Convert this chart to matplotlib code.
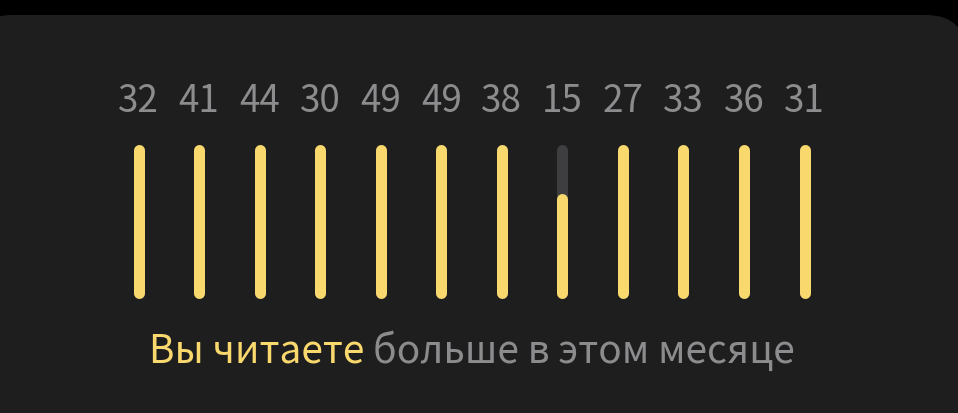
import numpy as np
import matplotlib
matplotlib.use('Agg')
import matplotlib.pyplot as plt
from matplotlib.patches import FancyBboxPatch

plt.rcParams['font.family'] = ['Noto Sans CJK JP', 'DejaVu Sans']

# data
counts = [32, 41, 44, 30, 49, 49, 38, 15, 27, 33, 36, 31]
goal = 23
caption_hi = "Вы читаете"
caption_rest = "больше в этом месяце"

yellow = '#f9d96e'
track = '#3e3e40'
card = '#1e1e1e'
grey = '#8c8c8e'

W, H = 958, 414
fig = plt.figure(figsize=(W / 100, H / 100), dpi=100, facecolor='black')

# card behind everything (pixel coords)
box = FancyBboxPatch((-28, -60), 994, 398 + 60, boxstyle='round,pad=0,rounding_size=40',
                     transform=None, facecolor=card, edgecolor='none', zorder=-5)
fig.patches.append(box)

# bars axes: index 0 -> x=138.5px, spacing ~60.5px
step = 60.55
left = 138.5 - step / 2
bot, top = 299, 145
ax = fig.add_axes([left / W, (H - bot) / H, 12 * step / W, (bot - top) / H])
ax.set_facecolor('none')
ax.axis('off')
r = 5.5
per_px = goal / (bot - top - 2 * r)
ax.set_xlim(-0.5, 11.5)
ax.set_ylim(-r * per_px, goal + r * per_px)

lw = 11 * 0.72
x = np.arange(len(counts))
for i, v in zip(x, counts):
    ax.plot([i, i], [0, goal], color=track, lw=lw, solid_capstyle='round', clip_on=False)
    ax.plot([i, i], [0, min(v, goal)], color=yellow, lw=lw, solid_capstyle='round', clip_on=False)
    ax.annotate(str(v), (i, goal), xytext=(0, 39 * 0.72), textcoords='offset points',
                ha='center', va='baseline', fontsize=26.5, color=grey)

# caption, two colours, centred under the bars
fs = 28
t1 = fig.text(0, 0, caption_hi + ' ', fontsize=fs, color=yellow)
t2 = fig.text(0, 0, caption_rest, fontsize=fs, color=grey)
fig.canvas.draw()
r_ = fig.canvas.get_renderer()
w1 = t1.get_window_extent(r_).width
w2 = t2.get_window_extent(r_).width
cx = 471.5
x0 = cx - (w1 + w2) / 2
base = H - 363
t1.set_position((x0 / W, base / H))
t2.set_position(((x0 + w1) / W, base / H))
t1.set_va('baseline')
t2.set_va('baseline')

fig.savefig('out.png', dpi=100, facecolor='black')
